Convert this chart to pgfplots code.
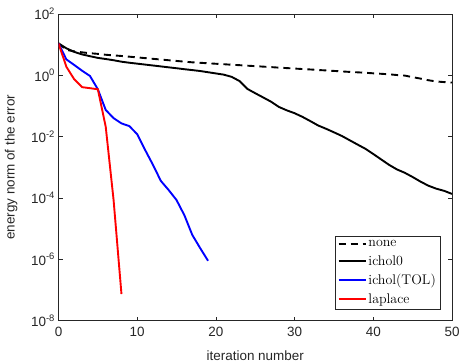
\documentclass[border=0pt]{standalone}
\usepackage{fontspec}
\usepackage{pgfplots}
\pgfplotsset{compat=1.18}
\newfontfamily\arial{Liberation Sans}
\definecolor{axgray}{gray}{0.15}
\begin{document}
\begin{tikzpicture}
\useasboundingbox (-58.5bp,-43.5bp) rectangle (402.5bp,320.5bp);
\begin{axis}[
  scale only axis, width=393.5bp, height=306.5bp,
  anchor=south west, at={(0,0)},
  ymode=log, xmin=0, xmax=50, ymin=1e-8, ymax=1e2,
  xtick={0,10,20,30,40,50},
  ytick={1e-8,1e-6,1e-4,1e-2,1,1e2},
  yticklabels={10\textsuperscript{-8},10\textsuperscript{-6},10\textsuperscript{-4},10\textsuperscript{-2},10\textsuperscript{0},10\textsuperscript{2}},
  minor tick num=0, minor ytick={},
  tick align=inside, tick pos=both,
  major tick length=4bp,
  axis line style={axgray, line width=0.6pt},
  every tick/.style={axgray, line width=0.6pt},
  ticklabel style={font=\arial\fontsize{13.5}{15}\selectfont, text=axgray},
  xticklabel style={yshift=-3bp},
  /pgf/number format/assume math mode=true,
  xlabel={\arial iteration number}, ylabel={\arial energy norm of the error},
  label style={font=\arial\fontsize{13.5}{15}\selectfont, text=axgray},
  xlabel style={yshift=-7.5bp}, ylabel style={yshift=7bp},
  legend style={at={(axis description cs:0.9695,0.0375)}, anchor=south east,
    font=\fontsize{14}{16}\selectfont, draw=axgray,
    inner sep=2pt, row sep=3.5bp},
  legend cell align=left,
  legend image code/.code={\draw[#1] (0bp,0bp) -- (27bp,0bp);},
  clip=true,
]
\addplot[black, line width=1.9pt, dash pattern=on 7bp off 5bp] coordinates {
(0,11) (1,6.76) (2,6.03) (3,5.62) (4,5.25) (5,5.01) (6,4.68) (7,4.47) (8,4.27) (9,4.05)
(10,3.84) (11,3.64) (12,3.45) (13,3.27) (14,3.10) (15,2.94) (16,2.79) (17,2.65) (18,2.56) (19,2.47)
(20,2.38) (21,2.30) (22,2.21) (23,2.14) (24,2.06) (25,1.99) (26,1.92) (27,1.85) (28,1.78) (29,1.72)
(30,1.66) (31,1.60) (32,1.55) (33,1.49) (34,1.44) (35,1.39) (36,1.34) (37,1.29) (38,1.25) (39,1.21)
(40,1.16) (41,1.12) (42,1.08) (43,1.02) (44,0.98) (45,0.87) (46,0.78) (47,0.69) (48,0.63) (49,0.60) (50,0.58)};
\addlegendentry{none}
\addplot[black, line width=1.9pt] coordinates {
(0,11) (1,7.6) (2,5.8) (3,4.8) (4,4.2) (5,3.7) (6,3.4) (7,3.1) (8,2.78) (9,2.57)
(10,2.4) (11,2.24) (12,2.09) (13,1.95) (14,1.82) (15,1.70) (16,1.58) (17,1.48) (18,1.38) (19,1.26)
(20,1.15) (21,1.05) (22,0.89) (23,0.65) (24,0.36) (25,0.26) (26,0.19) (27,0.138) (28,0.093) (29,0.072)
(30,0.058) (31,0.044) (32,0.032) (33,0.023) (34,0.018) (35,0.0138) (36,0.0105) (37,0.0076) (38,0.0055) (39,0.0040)
(40,0.0027) (41,0.0018) (42,0.0012) (43,8.5e-4) (44,6.6e-4) (45,4.8e-4) (46,3.4e-4) (47,2.5e-4) (48,2.0e-4) (49,1.7e-4) (50,1.35e-4)};
\addlegendentry{ichol0}
\addplot[blue, line width=1.9pt] coordinates {
(0,11) (1,3.3) (2,2.17) (3,1.41) (4,0.95) (5,0.35) (6,0.074) (7,0.04) (8,0.027) (9,0.022)
(10,0.012) (11,0.0037) (12,0.0012) (13,3.6e-4) (14,1.8e-4) (15,8.5e-5) (16,2.7e-5) (17,6.2e-6) (18,2.3e-6) (19,8.9e-7)};
\addlegendentry{ichol(TOL)}
\addplot[red, line width=1.9pt] coordinates {
(0,11) (1,1.9) (2,0.74) (3,0.41) (4,0.38) (5,0.35) (6,0.021) (7,8.5e-5) (8,7.3e-8)};
\addlegendentry{laplace}
\end{axis}
\end{tikzpicture}
\end{document}
